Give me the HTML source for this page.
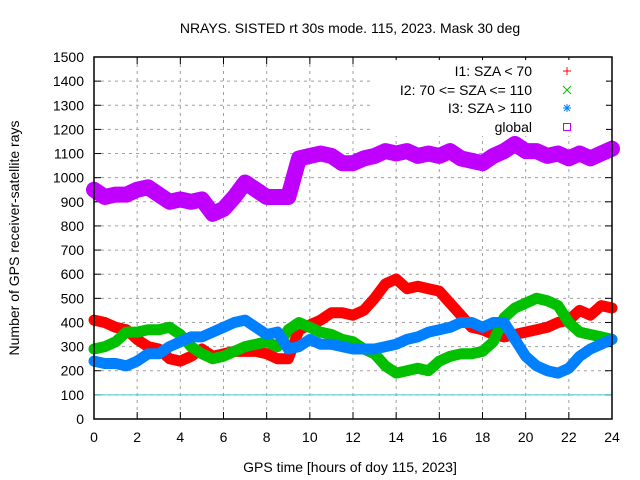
<!DOCTYPE html>
<html><head><meta charset="utf-8"><style>
body{margin:0;background:#fff;}
svg{display:block;font-family:"Liberation Sans",sans-serif;}
</style></head><body>
<svg id="chart" width="640" height="480">
<text x="350" y="33" font-size="14" text-anchor="middle">NRAYS. SISTED rt 30s mode. 115, 2023. Mask 30 deg</text>
<text x="350" y="472" font-size="14" text-anchor="middle">GPS time [hours of doy 115, 2023]</text>
<text transform="translate(19,238) rotate(-90)" font-size="14" text-anchor="middle">Number of GPS receiver-satellite rays</text>
<g id="grid"></g>
<g id="ticks"></g>
<g id="series"></g>
<rect x="94" y="57" width="518" height="362" fill="none" stroke="#000" stroke-width="1.5"/>
<g id="legend"></g>
</svg>
<script>
const hours=[0,0.5,1,1.5,2,2.5,3,3.5,4,4.5,5,5.5,6,6.5,7,7.5,8,8.5,9,9.5,10,10.5,11,11.5,12,12.5,13,13.5,14,14.5,15,15.5,16,16.5,17,17.5,18,18.5,19,19.5,20,20.5,21,21.5,22,22.5,23,23.5,24];
const i1=[410,400,380,370,330,300,290,250,240,260,290,260,270,280,280,280,270,250,250,370,390,410,440,440,430,450,500,560,580,540,550,540,530,480,430,380,370,350,340,350,360,370,380,400,410,450,430,470,460];
const i2=[290,300,320,360,360,370,370,380,350,300,270,250,260,280,300,310,320,300,370,400,380,360,350,330,320,290,270,220,190,200,210,200,240,260,270,270,280,320,420,460,480,500,490,470,400,360,350,340,330];
const i3=[240,230,230,220,240,270,270,300,320,340,340,360,380,400,410,380,350,360,290,300,330,310,310,300,290,290,290,300,310,330,340,360,370,380,400,400,380,400,400,330,260,220,200,190,210,260,290,310,330];
const globalVals=[950,920,930,930,950,960,930,900,910,900,910,850,870,920,980,950,920,920,920,1080,1090,1100,1090,1060,1060,1080,1090,1110,1100,1110,1090,1100,1090,1110,1080,1070,1060,1090,1110,1140,1110,1110,1090,1100,1080,1100,1080,1100,1120];
const xTicks=[0,2,4,6,8,10,12,14,16,18,20,22,24];
const yTicks=[0,100,200,300,400,500,600,700,800,900,1000,1100,1200,1300,1400,1500];
const NS="http://www.w3.org/2000/svg";
const X0=94,X1=612,Y0=419,Y1=57;
const sx=h=>X0+(h/24)*(X1-X0);
const sy=v=>Y0-(v/1500)*(Y0-Y1);
function mk(tag,at,parent){const e=document.createElementNS(NS,tag);for(const k in at)e.setAttribute(k,at[k]);parent.appendChild(e);return e;}
const grid=document.getElementById('grid'),ticks=document.getElementById('ticks'),ser=document.getElementById('series'),leg=document.getElementById('legend');
yTicks.forEach(v=>{
 const y=sy(v);
 if(v>0&&v<1500){const g=mk('line',{x1:X0,x2:X1,y1:y,y2:y,stroke:'#a0a0a0','stroke-dasharray':'3,4'},grid);
 
 }
 mk('line',{x1:X0,x2:X0+7,y1:y,y2:y,stroke:'#000'},ticks);
 mk('line',{x1:X1-7,x2:X1,y1:y,y2:y,stroke:'#000'},ticks);
 const t=mk('text',{x:84,y:y+5,'font-size':14,'text-anchor':'end'},ticks);t.textContent=v;
 
 
});
xTicks.forEach(h=>{
 const x=sx(h);
 if(h>0&&h<24){const g=mk('line',{x1:x,x2:x,y1:Y1,y2:Y0,stroke:'#a0a0a0','stroke-dasharray':'3,4'},grid);
 
 }
 mk('line',{x1:x,x2:x,y1:Y0,y2:Y0-7,stroke:'#000'},ticks);
 mk('line',{x1:x,x2:x,y1:Y1,y2:Y1+7,stroke:'#000'},ticks);
 const t=mk('text',{x:x,y:442,'font-size':14,'text-anchor':'middle'},ticks);t.textContent=h;
 
 
});
const ref=mk('line',{x1:X0,x2:X1,y1:sy(100),y2:sy(100),stroke:'#40c8d0','stroke-width':1},ser);


function series(vals,color,w,name){
 const pts=vals.map((v,i)=>sx(hours[i]).toFixed(1)+','+sy(v).toFixed(1)).join(' ');
 const p=mk('polyline',{points:pts,fill:'none',stroke:color,'stroke-width':w,'stroke-linejoin':'round','stroke-linecap':'round'},ser);
 
 
}
series(globalVals,'#c000ff',16,'series-global');
series(i1,'#ff0000',11,'series-i1');
series(i2,'#00c000',11,'series-i2');
series(i3,'#0080ff',11,'series-i3');
mk('rect',{x:370,y:60,width:236,height:76,fill:'#fff'},leg);
const labels=['I1: SZA < 70','I2: 70 <= SZA <= 110','I3: SZA > 110','global'];
const names=['legend-i1','legend-i2','legend-i3','legend-global'];
const ly=[71,90,108,127];
labels.forEach((s,i)=>{
 const t=mk('text',{x:532,y:ly[i]+5,'font-size':14,'text-anchor':'end'},leg);t.textContent=s;
 
 
});
const mx=567;
mk('path',{d:`M${mx-4},71h8M${mx},67v8`,stroke:'#ff0000','stroke-width':1},leg);
mk('path',{d:`M${mx-4},86l8,8M${mx+4},86l-8,8`,stroke:'#00c000','stroke-width':1},leg);
mk('path',{d:`M${mx-4},108h8M${mx},104v8M${mx-3},105l6,6M${mx+3},105l-6,6`,stroke:'#0080ff','stroke-width':1},leg);
mk('rect',{x:mx-3.5,y:123.5,width:7,height:7,fill:'none',stroke:'#c000ff','stroke-width':1},leg);
</script>
</body></html>
